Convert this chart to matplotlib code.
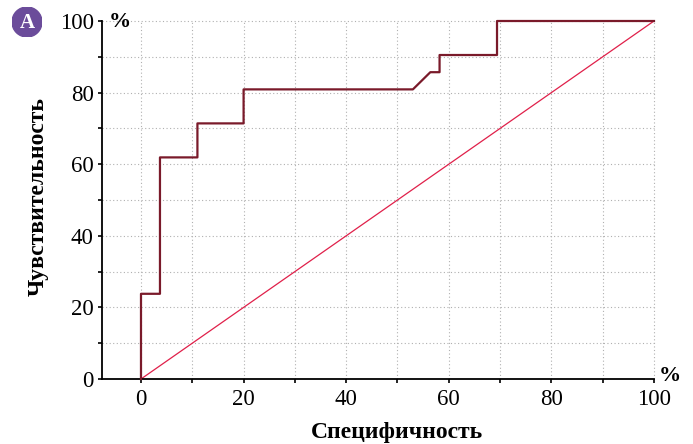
import matplotlib
matplotlib.use("Agg")
import matplotlib.pyplot as plt
from matplotlib.patches import Circle

# ROC curve data (x = axis labelled "Специфичность", y = sensitivity)
roc_x = [0, 0, 3.7, 3.7, 11.0, 11.0, 20.0, 20.0, 53.0, 56.4, 58.2, 58.2, 69.4, 69.4, 100]
roc_y = [0, 23.8, 23.8, 61.9, 61.9, 71.4, 71.4, 80.9, 80.9, 85.7, 85.7, 90.5, 90.5, 100, 100]
diag_x = [0, 100]
diag_y = [0, 100]
major_ticks = [0, 20, 40, 60, 80, 100]
minor_ticks = [10, 30, 50, 70, 90]
grid_vals = [10, 20, 30, 40, 50, 60, 70, 80, 90, 100]
xlabel = "Специфичность"
ylabel = "Чувствительность"

plt.rcParams['font.family'] = ['Liberation Serif', 'DejaVu Serif']

fig = plt.figure(figsize=(6.93, 4.44), dpi=100)
ax = fig.add_axes([102/693, 1 - 379/444, (654-102)/693, (379-21)/444])

ax.set_xlim(-7.6, 100)
ax.set_ylim(0, 100)

gc = '#b0b0b0'
for v in grid_vals:
    ax.plot([v, v], [0, 100], color=gc, lw=0.8, ls=(0, (1, 2.2)), zorder=1, clip_on=False)
    ax.plot([-7.6, 100], [v, v], color=gc, lw=0.8, ls=(0, (1, 2.2)), zorder=1, clip_on=False)
ax.plot([0, 0], [0, 100], color=gc, lw=0.8, ls=(0, (1, 2.2)), zorder=1)

ax.plot(diag_x, diag_y, color='#e0204a', lw=0.9, zorder=2, clip_on=False)
ax.plot(roc_x, roc_y, color='#7a1a2a', lw=1.6, zorder=3, clip_on=False)

for s in ['top', 'right']:
    ax.spines[s].set_visible(False)
for s in ['left', 'bottom']:
    ax.spines[s].set_linewidth(1.3)
    ax.spines[s].set_color('black')

ax.set_xticks(major_ticks)
ax.set_yticks(major_ticks)
ax.set_xticks(minor_ticks, minor=True)
ax.set_yticks(minor_ticks, minor=True)
ax.tick_params(which='both', direction='out', length=3, width=1.2, colors='black', labelsize=16.5)
ax.tick_params(axis='x', pad=4)
ax.tick_params(axis='y', pad=3)

fig.text(397/693, 1 - 432/444, xlabel, ha='center', va='center', fontsize=17, fontweight='bold')
fig.text(38/693, 1 - 197/444, ylabel, ha='center', va='center', fontsize=17, fontweight='bold', rotation=90)

fig.text(120/693, 1 - 22/444, '%', ha='center', va='center', fontsize=16, fontweight='bold')
fig.text(670/693, 1 - 376/444, '%', ha='center', va='center', fontsize=16, fontweight='bold')

bax = fig.add_axes([12/693, 1 - 37/444, 30/693, 30/444])
bax.set_xlim(-1, 1); bax.set_ylim(-1, 1); bax.axis('off')
bax.add_patch(Circle((0, 0), 1, color='#6b4c9a'))
bax.text(0, -0.05, 'A', ha='center', va='center', color='white', fontsize=15, fontweight='bold')

fig.savefig('out.png', dpi=100)
